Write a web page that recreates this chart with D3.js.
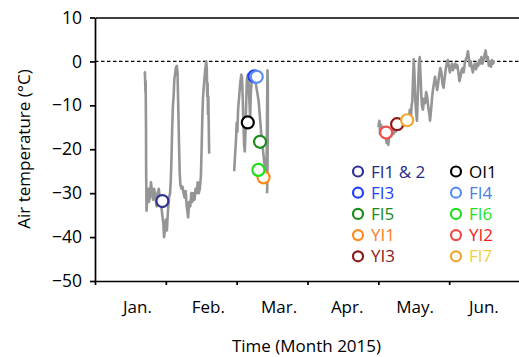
<!DOCTYPE html>
<html lang="en">
<head>
  <meta charset="UTF-8">
  <title>Air temperature 2015</title>
  <style>
    body { margin: 0; background: #fff; }
    svg text { font-family: "Open Sans", "Noto Sans", sans-serif; }
  </style>
</head>
<body>
  <svg id="chart"></svg>

  <script src="https://cdn.jsdelivr.net/npm/d3@7/dist/d3.min.js"></script>
  <script>
    // time is in months from 1 Jan 2015 (0 = Jan 1, 1 = Feb 1, ...)
    var janFeb = [
      [0.700, -3], [0.705, -2.5], [0.710, -5.5], [0.712, -7], [0.715, -4.5], [0.720, -15], [0.722, -25],
      [0.725, -30], [0.728, -34], [0.735, -31], [0.750, -29], [0.760, -32], [0.775, -31], [0.790, -27.5],
      [0.800, -29], [0.820, -31.5], [0.835, -29], [0.850, -30.5], [0.870, -33], [0.885, -30], [0.900, -29],
      [0.915, -31], [0.930, -32], [0.950, -35], [0.965, -37], [0.975, -40], [0.990, -38], [1.000, -36],
      [1.015, -38.5], [1.030, -34], [1.045, -31], [1.060, -30], [1.070, -27], [1.080, -22], [1.090, -15],
      [1.100, -10], [1.110, -8], [1.120, -4], [1.130, -3], [1.140, -1.5], [1.155, -1], [1.165, -2.5],
      [1.175, -10], [1.185, -18], [1.195, -25], [1.205, -28], [1.220, -29], [1.235, -28.5], [1.250, -30],
      [1.265, -31], [1.280, -29.5], [1.295, -33], [1.315, -35.5], [1.330, -32], [1.345, -33], [1.360, -30],
      [1.375, -32], [1.390, -30], [1.405, -31.5], [1.420, -29], [1.435, -30], [1.450, -27.5], [1.465, -30],
      [1.480, -29], [1.495, -26], [1.505, -20], [1.515, -13], [1.525, -8], [1.540, -5], [1.555, -2],
      [1.570, 0], [1.578, -1.5], [1.585, -8], [1.590, -5], [1.595, -12], [1.600, -8], [1.607, -16], [1.612, -21]
    ];
    var mar = [
      [1.965, -25], [1.975, -22], [1.990, -18], [2.000, -14], [2.010, -16], [2.020, -11], [2.035, -8],
      [2.050, -5], [2.065, -3], [2.075, -3.5], [2.085, -8], [2.095, -14], [2.105, -19], [2.115, -20.5],
      [2.125, -16], [2.135, -9], [2.145, -4], [2.160, -3], [2.170, -5], [2.180, -9], [2.190, -13],
      [2.200, -7], [2.215, -4], [2.230, -2.5], [2.250, -3], [2.270, -5], [2.290, -7], [2.310, -9],
      [2.330, -13], [2.350, -17], [2.370, -20], [2.390, -23], [2.405, -25], [2.415, -27], [2.425, -20],
      [2.430, -10], [2.435, -2], [2.440, -5], [2.440, -15], [2.435, -25], [2.430, -30]
    ];
    var aprJun = [
      [4.000, -15], [4.015, -13.5], [4.025, -16.5], [4.040, -14.5], [4.055, -16], [4.070, -15], [4.085, -17],
      [4.100, -16], [4.115, -18.5], [4.125, -17.5], [4.140, -19], [4.155, -17], [4.170, -16.5], [4.185, -17],
      [4.200, -15.5], [4.215, -16.5], [4.230, -15.5], [4.245, -16], [4.260, -14.5], [4.275, -15.5], [4.290, -14.5],
      [4.310, -15], [4.325, -14], [4.340, -14.5], [4.355, -13.5], [4.370, -14], [4.385, -13], [4.400, -14],
      [4.415, -12.5], [4.430, -13], [4.445, -11], [4.460, -13], [4.470, -10], [4.480, -9], [4.490, -4],
      [4.500, 0.5], [4.510, -3], [4.520, -8], [4.530, -11], [4.545, -13.5], [4.555, -9], [4.565, -4],
      [4.575, 0], [4.585, 1], [4.595, -3], [4.605, -7], [4.615, -10], [4.630, -11], [4.645, -8.5],
      [4.660, -9.5], [4.675, -7], [4.690, -8], [4.705, -10.5], [4.720, -12], [4.730, -13.5], [4.745, -11],
      [4.760, -8], [4.775, -6], [4.790, -4.5], [4.800, -3.5], [4.815, -5], [4.830, -6.5], [4.845, -5],
      [4.860, -3], [4.875, -1.5], [4.890, -2.5], [4.905, -5], [4.920, -6], [4.935, -4], [4.950, -2],
      [4.965, -0.5], [4.980, 0.3], [4.995, -1], [5.010, -2.5], [5.025, -1.5], [5.040, -0.5], [5.055, -2],
      [5.070, -1], [5.085, -0.5], [5.100, -1.5], [5.115, -0.8], [5.130, -2.5], [5.145, -4.5], [5.160, -3.5],
      [5.175, -2], [5.190, -1.5], [5.205, -2.5], [5.220, -0.5], [5.235, 0.5], [5.250, 1], [5.265, 2.3],
      [5.280, 0.5], [5.290, -1], [5.305, 0], [5.320, -1.5], [5.335, -2.5], [5.350, -1], [5.365, -0.5],
      [5.380, -1.8], [5.395, -0.5], [5.410, -1], [5.425, 0.3], [5.440, -0.5], [5.455, 1], [5.470, -0.5],
      [5.485, 0.3], [5.500, 1.5], [5.515, 2.5], [5.530, 0.5], [5.545, 1], [5.560, -1], [5.575, 0],
      [5.590, -1.2], [5.605, 0.3], [5.620, -0.5], [5.635, 0.2]
    ];

    // sampling sites (marker on the curve)
    var sites    = ['FI1 & 2', 'FI3', 'FI5', 'YI1', 'YI3', 'OI1', 'FI4', 'FI6', 'YI2', 'FI7'];
    var siteTime = [0.951, 2.250, 2.330, 2.380, 4.265, 2.157, 2.284, 2.307, 4.110, 4.407];
    var siteTemp = [-31.8, -3.4, -18.3, -26.4, -14.3, -13.9, -3.5, -24.7, -16.2, -13.4];
    var ringColor = ['#2e3192', '#1f3fff', '#1a8a1a', '#ff8a1e', '#8b1a1a', '#000000', '#5b8ef0', '#1ee01e', '#f04c4c', '#f0a830'];
    var textColor = ['#262a8c', '#1f3fff', '#1a8a1a', '#ff7b22', '#8b1a1a', '#000000', '#4a80e8', '#1ee01e', '#ee1c24', '#f0cf40'];

    var months = ['Jan.', 'Feb.', 'Mar.', 'Apr.', 'May.', 'Jun.'];
    var monthLabelAt = [0.60, 1.60, 2.60, 3.56, 4.52, 5.49];
    var yTicks = [-50, -40, -30, -20, -10, 0, 10];

    var W = 519, H = 357;
    var svg = d3.select('#chart').attr('width', W).attr('height', H);

    var x = d3.scaleLinear().domain([0, 6]).range([95, 520]);
    var y = d3.scaleLinear().domain([-50, 10]).range([281, 17.5]);

    // zero line
    svg.append('line')
      .attr('x1', x(0)).attr('x2', x(6))
      .attr('y1', y(0)).attr('y2', y(0))
      .attr('stroke', '#000').attr('stroke-width', 1.2)
      .attr('stroke-dasharray', '3.5,2.5');

    // temperature record
    var line = d3.line().x(d => x(d[0])).y(d => y(d[1]));
    svg.selectAll('path.temp')
      .data([janFeb, mar, aprJun])
      .enter()
      .append('path')
      .attr('class', 'temp')
      .attr('d', line)
      .attr('fill', 'none')
      .attr('stroke', '#959595')
      .attr('stroke-width', 2.6)
      .attr('stroke-linejoin', 'round');

    // axes
    var xAxis = svg.append('g')
      .attr('transform', 'translate(0,' + y(-50) + ')')
      .call(d3.axisBottom(x).tickValues([0, 1, 2, 3, 4, 5]).tickSize(4).tickSizeOuter(0).tickFormat(''));
    svg.append('g')
      .attr('transform', 'translate(0,' + y(10) + ')')
      .call(d3.axisTop(x).tickValues([]).tickSizeOuter(0));
    var yAxis = svg.append('g')
      .attr('transform', 'translate(' + x(0) + ',0)')
      .call(d3.axisLeft(y).tickValues(yTicks).tickSize(5).tickPadding(8).tickSizeOuter(0));
    svg.selectAll('.domain, .tick line').attr('stroke', '#000').attr('stroke-width', 1.7);
    yAxis.selectAll('text').attr('font-size', 17.5).attr('fill', '#000');

    svg.selectAll('text.month')
      .data(months)
      .enter()
      .append('text')
      .attr('class', 'month')
      .attr('x', (d, i) => x(monthLabelAt[i]))
      .attr('y', 313)
      .attr('text-anchor', 'middle')
      .attr('font-size', 17)
      .text(d => d);

    svg.append('text')
      .attr('x', 306.5).attr('y', 352)
      .attr('text-anchor', 'middle').attr('font-size', 17)
      .text('Time (Month 2015)');
    svg.append('text')
      .attr('transform', 'translate(30,149) rotate(-90)')
      .attr('text-anchor', 'middle').attr('font-size', 17)
      .text('Air temperature (°C)');

    // site markers
    svg.selectAll('circle.site')
      .data(sites)
      .enter()
      .append('circle')
      .attr('class', 'site')
      .attr('cx', (d, i) => x(siteTime[i]))
      .attr('cy', (d, i) => y(siteTemp[i]))
      .attr('r', 6)
      .attr('fill', '#fff')
      .attr('stroke', (d, i) => ringColor[i])
      .attr('stroke-width', 2.2);

    // legend, two columns of five
    var legend = svg.selectAll('g.legend')
      .data(sites)
      .enter()
      .append('g')
      .attr('class', 'legend')
      .attr('transform', (d, i) => 'translate(' + (i < 5 ? 358 : 456) + ',' + (171.5 + (i % 5) * 21.2) + ')');
    legend.append('circle')
      .attr('r', 5)
      .attr('fill', '#fff')
      .attr('stroke', (d, i) => ringColor[i])
      .attr('stroke-width', 2.2);
    legend.append('text')
      .attr('x', 13)
      .attr('dy', '0.36em')
      .attr('font-size', 17)
      .attr('fill', (d, i) => textColor[i])
      .text(d => d);
  </script>
</body>
</html>
